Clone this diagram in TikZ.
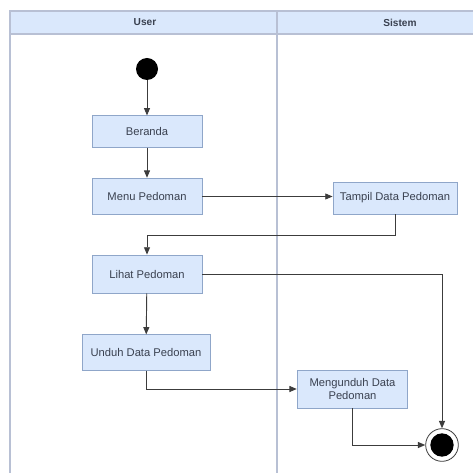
\documentclass[tikz,border=0pt]{standalone}
\usepackage{fontspec}
\setmainfont{Liberation Sans}
\usetikzlibrary{arrows.meta,positioning}
\definecolor{laneblue}{HTML}{DAE8FC}
\definecolor{boxedge}{HTML}{8FA6C9}
\definecolor{laneedge}{HTML}{B8C0D4}
\definecolor{txt}{HTML}{3A4150}
\definecolor{flow}{HTML}{3C3C3C}
\tikzset{
  act/.style={draw=boxedge, fill=laneblue, line width=0.6pt, inner sep=0pt,
    text=txt, font=\fontsize{8.4}{10.2}\selectfont, align=center},
  flowline/.style={draw=flow, line width=0.7pt, -{Triangle[length=5.5pt,width=4.5pt]}},
  lane/.style={draw=laneedge, line width=0.8pt},
  hdr/.style={text=txt, font=\bfseries\fontsize{7.6}{9}\selectfont},
}
\begin{document}
\begin{tikzpicture}[x=0.75pt,y=-0.75pt]
\useasboundingbox (0,0) rectangle (473,473);
\clip (0,0) rectangle (473,473);
% swimlanes
\fill[white] (0,0) rectangle (473,473);
\filldraw[lane, fill=laneblue] (10,11) rectangle (480,34);
\draw[lane] (10,11) -- (10,480);
\draw[lane] (277,11) -- (277,480);
\node[hdr] (huser) at (145,22.5) {User};
\node[hdr] (hsys) at (400,22.5) {Sistem};
% activity nodes
\node[circle, fill=black, minimum size=16.5pt, inner sep=0pt] (start) at (147,69) {};
\node[act, minimum width=82.5pt, minimum height=23.5pt] (beranda) at (147,131.5) {Beranda};
\node[act, minimum width=82.5pt, minimum height=27.5pt] (menu) at (147,196.5) {Menu Pedoman};
\node[act, minimum width=93pt, minimum height=24pt] (tampil) at (395,198) {Tampil Data Pedoman};
\node[act, minimum width=82.5pt, minimum height=28.5pt] (lihat) at (147,274) {Lihat Pedoman};
\node[act, minimum width=96pt, minimum height=26.5pt] (unduh) at (146,352.5) {Unduh Data Pedoman};
\node[act, minimum width=83pt, minimum height=28.5pt] (mengunduh) at (352.5,389) {Mengunduh Data\\Pedoman};
\node[circle, draw=flow, line width=0.6pt, fill=white, minimum size=24.5pt, inner sep=0pt] (end) at (442,445) {};
\node[circle, fill=black, minimum size=17.5pt, inner sep=0pt] (endcore) at (end) {};
% control flow
\draw[flowline] (start) -- (beranda);
\draw[flowline] (beranda) -- (menu);
\draw[flowline] (menu.east) -- (menu.east -| tampil.west);
\coordinate (bend) at (395,235);
\draw[flowline] (tampil.south) -- (bend) -| (lihat.north);
\draw[flowline] (lihat) -- (unduh);
\draw[flowline] (lihat.east) -| (end.north);
\draw[flowline] (unduh.south) |- (mengunduh.west);
\draw[flowline] (mengunduh.south) |- (end.west);
\end{tikzpicture}
\end{document}
